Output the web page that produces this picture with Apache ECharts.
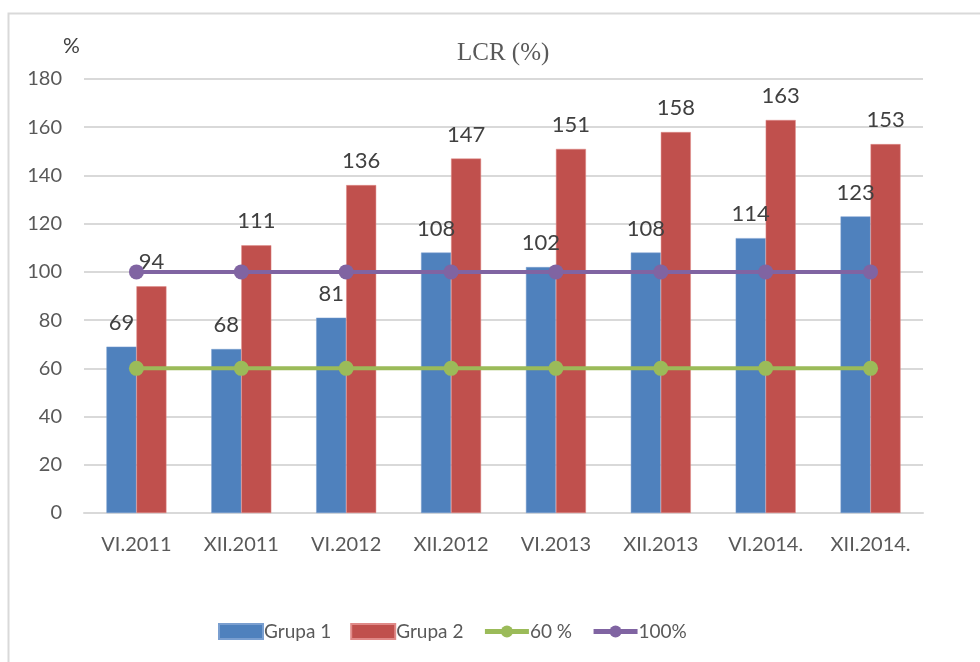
<!DOCTYPE html>
<html>
<head>
<meta charset="utf-8">
<script src="https://cdn.jsdelivr.net/npm/echarts@6/dist/echarts.min.js"></script>
<style>
body { margin: 0; padding: 0; background: #fff; }
#main { width: 980px; height: 662px; }
</style>
</head>
<body>
<div id="main"></div>
<script>
const categories = ['VI.2011', 'XII.2011', 'VI.2012', 'XII.2012', 'VI.2013', 'XII.2013', 'VI.2014.', 'XII.2014.']
const grupa1 = [69, 68, 81, 108, 102, 108, 114, 123]
const grupa2 = [94, 111, 136, 147, 151, 158, 163, 153]
const line60 = [60, 60, 60, 60, 60, 60, 60, 60]
const line100 = [100, 100, 100, 100, 100, 100, 100, 100]

const font = 'Lato, "Open Sans", sans-serif'
const myChart = echarts.init(document.getElementById('main'))

const barLabel = {
  show: true,
  position: 'top',
  distance: 13,
  color: '#404040',
  fontSize: 22,
  fontFamily: font
}

const option = {
  animation: false,
  backgroundColor: '#fff',
  graphic: [{
    type: 'rect',
    shape: { x: 8.5, y: 13.5, width: 990, height: 700 },
    style: { fill: 'none', stroke: '#d9d9d9', lineWidth: 2 },
    silent: true
  }],
  title: [{
    text: 'LCR (%)',
    left: 452,
    top: 36,
    textStyle: { fontFamily: '"Liberation Serif", serif', fontSize: 25, fontWeight: 'normal', color: '#595959' }
  }, {
    text: '%',
    left: 58,
    top: 31,
    textStyle: { fontFamily: font, fontSize: 21, fontWeight: 'normal', color: '#404040' }
  }],
  legend: {
    bottom: 16,
    left: 213,
    itemGap: 19,
    itemWidth: 44,
    itemHeight: 15,
    lineStyle: { width: 5 },
    textStyle: { fontFamily: font, fontSize: 19, color: '#595959', padding: [0, 0, 0, -4] },
    data: [
      { name: 'Grupa 1', icon: 'rect' },
      { name: 'Grupa 2', icon: 'rect' },
      { name: '60 %' },
      { name: '100%' }
    ]
  },
  grid: { left: 84, right: 57, top: 79, bottom: 149 },
  xAxis: {
    type: 'category',
    data: categories,
    axisTick: { show: false },
    axisLine: { lineStyle: { color: '#d9d9d9', width: 2 } },
    axisLabel: { color: '#595959', fontSize: 20, fontFamily: font, margin: 22 }
  },
  yAxis: {
    type: 'value',
    min: 0,
    max: 180,
    interval: 20,
    axisLine: { show: false },
    axisTick: { show: false },
    splitLine: { lineStyle: { color: '#d9d9d9', width: 2 } },
    axisLabel: { color: '#595959', fontSize: 20, fontFamily: font, margin: 22 }
  },
  series: [{
    name: 'Grupa 1',
    type: 'bar',
    data: grupa1,
    barWidth: 30,
    barGap: '0%',
    itemStyle: { color: '#4f81bd', borderColor: '#7a9fd0', borderWidth: 0.5 },
    label: barLabel
  }, {
    name: 'Grupa 2',
    type: 'bar',
    data: grupa2,
    barWidth: 30,
    barGap: '0%',
    itemStyle: { color: '#c0504d', borderColor: '#e08a88', borderWidth: 0.5 },
    label: barLabel
  }, {
    name: '60 %',
    type: 'line',
    data: line60,
    symbol: 'circle',
    symbolSize: 15,
    lineStyle: { color: '#9bbb59', width: 4 },
    itemStyle: { color: '#9bbb59' },
    z: 5
  }, {
    name: '100%',
    type: 'line',
    data: line100,
    symbol: 'circle',
    symbolSize: 15,
    lineStyle: { color: '#8064a2', width: 4 },
    itemStyle: { color: '#8064a2' },
    z: 5
  }]
}
myChart.setOption(option)
</script>
</body>
</html>
